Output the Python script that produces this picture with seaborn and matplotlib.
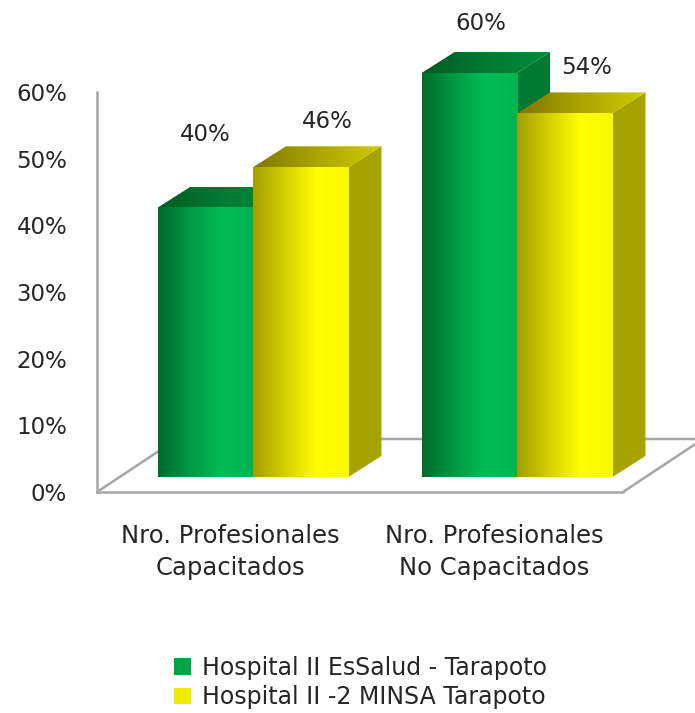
import numpy as np
import pandas as pd
import matplotlib
matplotlib.use("Agg")
import matplotlib.pyplot as plt
import seaborn as sns
from matplotlib.patches import Polygon, Patch
from matplotlib.colors import LinearSegmentedColormap

# ---------------- data ----------------
categories = ["Nro. Profesionales\nCapacitados", "Nro. Profesionales\nNo Capacitados"]
series = ["Hospital II EsSalud - Tarapoto", "Hospital II -2 MINSA Tarapoto"]
essalud = [40, 60]
minsa = [46, 54]
yticks = [0, 10, 20, 30, 40, 50, 60]

# ---------------- style ----------------
sns.set_theme(style="white")
plt.rcParams['font.family'] = ['DejaVu Sans']
FS = 16.5
TXT = "#262626"
AXC = "#A6A6A6"

W, H = 695, 713
fig = plt.figure(figsize=(W / 100, H / 100), dpi=100)


def fr(x0, y0, x1, y1):
    return [x0 / W, 1 - y1 / H, (x1 - x0) / W, (y1 - y0) / H]


# floor (pixel space)
axf = fig.add_axes([0, 0, 1, 1])
axf.set_xlim(0, W)
axf.set_ylim(H, 0)
axf.axis("off")
axf.plot([97, 177, 703], [492, 439, 439], color=AXC, lw=1.8, solid_capstyle="butt")
axf.plot([623, 703], [492, 439], color=AXC, lw=1.8)

# front axis (ticks + category labels)
ax2 = fig.add_axes(fr(97, 92, 623, 492))
ax2.set_facecolor("none")
ax2.set_ylim(0, 60)
ax2.set_xlim(-(230 - 97) / 264, (623 - 230) / 264)
for s in ["top", "right"]:
    ax2.spines[s].set_visible(False)
for s in ["left", "bottom"]:
    ax2.spines[s].set_color(AXC)
    ax2.spines[s].set_linewidth(1.8)
ax2.set_yticks(yticks, [f"{t}%" for t in yticks])
ax2.set_xticks([0, 1], categories)
ax2.tick_params(axis="y", length=0, pad=21.5, labelsize=FS, labelcolor=TXT)
ax2.tick_params(axis="x", length=0, pad=23, labelsize=17.5, labelcolor=TXT)
for lab in ax2.get_xticklabels():
    lab.set_linespacing(1.45)

# bars
ax = fig.add_axes([0, 0, 1, 1])
ax.set_facecolor("none")
df = pd.DataFrame({
    "cat": categories * 2,
    "val": essalud + minsa,
    "hosp": [series[0]] * 2 + [series[1]] * 2,
})
pal = ["#00A445", "#F2F000"]
sns.barplot(data=df, x="cat", y="val", hue="hosp", order=categories,
            hue_order=series, palette=pal, width=0.723, saturation=1,
            legend=False, ax=ax)

XL = (-253 / 264, (W - 253) / 264)
UY = 6.733
YL = (-(H - 477) / UY, 477 / UY)
DX = 33 / 264
DY = 21 / UY

front_cmaps = [
    LinearSegmentedColormap.from_list("gf", ["#006A2C", "#009A42", "#00BD55", "#00B451"]),
    LinearSegmentedColormap.from_list("yf", ["#A39D00", "#D4D000", "#FFFF00", "#F8F800"]),
]
top_cmaps = [
    LinearSegmentedColormap.from_list("gt", ["#005A22", "#007A33", "#008C3C"]),
    LinearSegmentedColormap.from_list("yt", ["#7E7600", "#ABA500", "#CFCB00"]),
]
side_cols = ["#007A32", "#A6A200"]

vals = essalud + minsa
label_offsets = [(0, 73), (12, 50), (27, 46), (22, 46)]

patches = list(ax.patches)
grad = np.linspace(0, 1, 256).reshape(1, -1)
order = []
for c in range(2):
    for s in range(2):
        order.append(s * 2 + c)

z = 5
for idx in order:
    p = patches[idx]
    s = idx // 2
    x, w, h = p.get_x(), p.get_width(), p.get_height()
    p.set_facecolor("none")
    p.set_edgecolor("none")
    side = Polygon([(x + w, 0), (x + w, h), (x + w + DX, h + DY), (x + w + DX, DY)],
                   closed=True, facecolor=side_cols[s], edgecolor="none", zorder=z)
    ax.add_patch(side)
    top = Polygon([(x, h), (x + w, h), (x + w + DX, h + DY), (x + DX, h + DY)],
                  closed=True, facecolor="none", edgecolor="none", transform=ax.transData)
    ax.add_patch(top)
    imt = ax.imshow(grad, extent=[x, x + w + DX, h, h + DY], cmap=top_cmaps[s],
                    aspect="auto", zorder=z + 1, interpolation="bilinear")
    imt.set_clip_path(top)
    ax.imshow(grad, extent=[x, x + w, 0, h], cmap=front_cmaps[s], aspect="auto",
              zorder=z + 2, interpolation="bilinear")
    z += 3

for idx in range(4):
    p = patches[idx]
    x, w, h = p.get_x(), p.get_width(), p.get_height()
    ox, oy = label_offsets[idx]
    ax.annotate(f"{vals[idx]:.0f}%", (x + w / 2, h), xytext=(ox, oy),
                textcoords="offset pixels", ha="center", va="center",
                fontsize=FS, color=TXT, zorder=50)

ax.set_xlim(*XL)
ax.set_ylim(*YL)
ax.axis("off")

# legend
handles = [Patch(facecolor="#00A445", edgecolor="none"),
           Patch(facecolor="#EEEA00", edgecolor="none")]
fig.legend(handles=handles, labels=series, loc="upper left",
           bbox_to_anchor=(174 / W, 1 - 656 / H), frameon=False, fontsize=17,
           handlelength=0.72, handleheight=0.72, handletextpad=0.45,
           labelspacing=0.22, borderpad=0, borderaxespad=0,
           labelcolor=TXT)

fig.savefig("out.png", dpi=100)
